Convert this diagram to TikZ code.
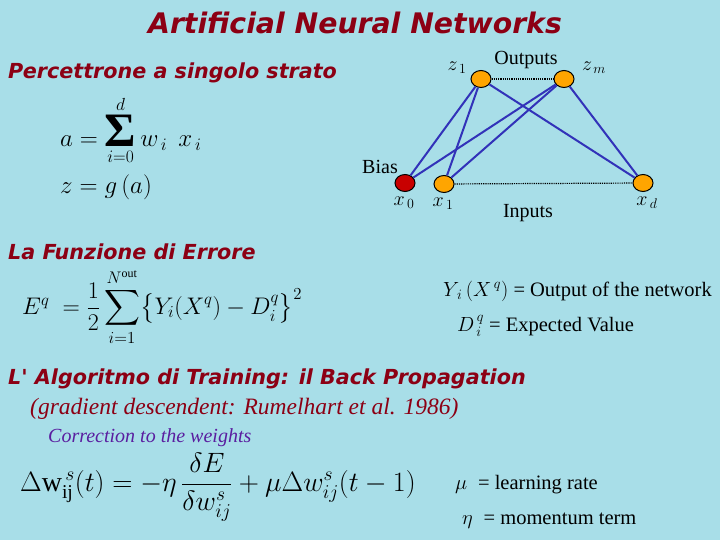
\documentclass[tikz,border=0pt]{standalone}
\usepackage{fix-cm}
\usepackage{amsmath}
\usepackage{fontspec}
\setmainfont{Liberation Serif}
\newfontfamily\headfont{DejaVu Sans}
\usetikzlibrary{shapes.geometric,positioning}
\definecolor{slidebg}{RGB}{168,222,232}
\definecolor{headred}{RGB}{140,0,20}
\definecolor{linkblue}{RGB}{50,50,185}
\definecolor{unitorange}{RGB}{255,165,0}
\definecolor{biasred}{RGB}{200,0,0}
\definecolor{notepurple}{RGB}{90,30,160}
\newcommand{\bigsig}{\mathop{\mbox{\fontsize{48}{48}\selectfont\bfseries Σ}}\limits}
\tikzset{
  head/.style ={anchor=west,inner sep=0pt,text=headred,font=\headfont\bfseries\itshape\fontsize{20.7}{24}\selectfont},
  unit/.style ={ellipse,draw,line width=1pt,fill=unitorange,minimum width=20pt,minimum height=17pt,inner sep=0pt},
  biasunit/.style={unit,fill=biasred},
  link/.style ={linkblue,line width=2pt},
  layer/.style={densely dotted,line width=1.2pt},
  lbl/.style  ={inner sep=0pt,font=\fontsize{20}{22}\selectfont},
  note/.style ={anchor=west,inner sep=0pt,font=\fontsize{20.5}{23}\selectfont},
  eqn/.style  ={anchor=west,inner sep=0pt,font=\fontsize{24}{28}\selectfont},
}

\begin{document}
\begin{tikzpicture}[x=1pt,y=-1pt]
  \fill[slidebg] (0,0) rectangle (720,540);
  \useasboundingbox (0,0) rectangle (720,540);
  % headings
  \node[head,anchor=center,font=\headfont\bfseries\itshape\fontsize{28.3}{32}\selectfont] (title) at (355,23) {Artificial Neural Networks};
  \node[head] (perc) at (8,73) {Percettrone a singolo strato};
  \node[head] (err) at (8,252) {La Funzione di Errore};
  \node[head] (bp) at (8,379) {L' Algoritmo di Training: il Back Propagation};
  % single layer perceptron
  \node[eqn,font=\fontsize{25}{29}\selectfont] (suma) at (60,130) {$a=\bigsig_{i=0}^{d} w_{\,i}\;\, x_{\,i}$};
  \node[eqn,font=\fontsize{25}{29}\selectfont] (gz) at (60,187) {$z = g\,(a)$};
  % network
  \node[unit] (z1) at (481,79) {};
  \node[unit] (zm) at (564,79) {};
  \node[biasunit] (x0) at (405,183) {};
  \node[unit] (x1) at (444,184) {};
  \node[unit] (xd) at (643,183) {};
  \foreach \o in {z1,zm}
    \foreach \i in {x0,x1,xd}
      \draw[link] (\o) -- (\i);
  \draw[layer] (z1) -- (zm);
  \draw[layer] (x1) -- (xd);
  \node[lbl] (z1l) at (457,68) {$z_{\,1}$};
  \node[lbl] (zml) at (594,68) {$z_{\,m}$};
  \node[lbl] (outl) at (526,60) {Outputs};
  \node[lbl] (bias) at (380,167) {Bias};
  \node[lbl] (x0l) at (404,203) {$x_{\,0}$};
  \node[lbl] (x1l) at (443,204) {$x_{\,1}$};
  \node[lbl] (inl) at (528,213) {Inputs};
  \node[lbl] (xdl) at (647,203) {$x_{\,d}$};
  % error function
  \node[eqn] (efun) at (22,307) {$E^{q}\;=\dfrac{1}{2}\displaystyle\sum_{i=1}^{N^{\mathrm{out}}}\bigl\{Y_i(X^q)-D_i^q\bigr\}^2$};
  \node[note] (yout) at (443,291) {$Y_{\,i}\,(X^{\,q})$ = Output of the network};
  \node[note] (dexp) at (457,326) {$D_{\,i}^{\,q}$ = Expected Value};
  % back propagation
  \node[anchor=west,inner sep=0pt,text=headred,font=\itshape\fontsize{23.5}{26}\selectfont] (grad) at (30,409) {(gradient descendent: Rumelhart et al. 1986)};
  \node[anchor=west,inner sep=0pt,text=notepurple,font=\itshape\fontsize{20}{23}\selectfont] (corr) at (48,438) {Correction to the weights};
  \node[eqn,font=\fontsize{28}{32}\selectfont] (dw) at (20,487) {$\Delta\mathrm{w}_{\mathrm{ij}}^{\,s}(t)=-\eta\,\dfrac{\delta E}{\delta w_{ij}^{s}}+\mu\Delta w_{ij}^{s}(t-1)$};
  \node[note] (mu) at (455,485) {$\mu$\; = learning rate};
  \node[note] (eta) at (462,521) {$\eta$\; = momentum term};
\end{tikzpicture}
\end{document}
